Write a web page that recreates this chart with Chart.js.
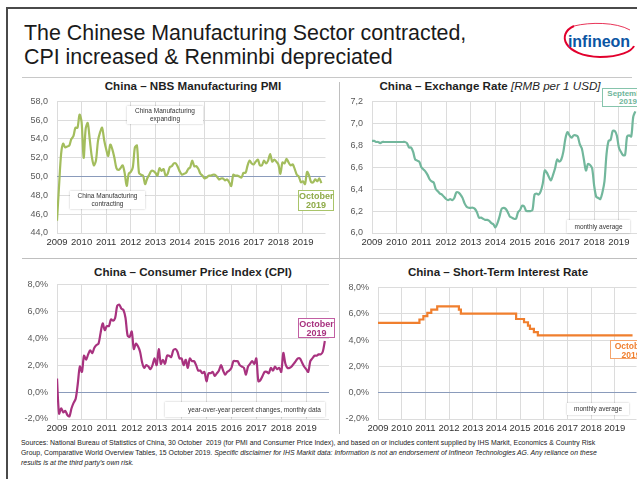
<!DOCTYPE html>
<html>
<head>
<meta charset="utf-8">
<script src="https://cdn.jsdelivr.net/npm/chart.js@4.4.1/dist/chart.umd.min.js"></script>
<style>
  html, body { margin: 0; padding: 0; background: #fff; }
  body { width: 637px; height: 479px; position: relative; overflow: hidden; font-family: "Liberation Sans", Arial, sans-serif; color: #1a1a1a; }
  .frame { position: absolute; left: 6px; top: 7px; width: 700px; height: 500px; border-left: 2px solid #4a4a4a; border-top: 2px solid #4a4a4a; }
  .title { position: absolute; left: 24px; font-size: 21.4px; line-height: 24px; white-space: nowrap; }
  .rule { position: absolute; background: #c8c8c8; }
  .ctitle { position: absolute; font-size: 11.6px; font-weight: bold; white-space: nowrap; transform: translateX(-50%); color: #1f1f1f; }
  .ctitle i { font-weight: normal; }
  canvas { position: absolute; }
  .note { position: absolute; background: #fff; font-size: 6.5px; line-height: 8px; color: #333; text-align: center; box-shadow: 0 0 2px rgba(0,0,0,0.25); white-space: nowrap; }
  .tag { position: absolute; background: #fff; font-size: 9px; line-height: 9px; font-weight: bold; text-align: center; white-space: nowrap; padding-top: 1px; box-sizing: border-box; }
  .foot { position: absolute; left: 21px; top: 438px; font-size: 6.9px; line-height: 10px; color: #222; white-space: nowrap; }
  .logo { position: absolute; left: 560px; top: 20px; }
</style>
</head>
<body>
<div class="frame"></div>
<div class="title" style="top:21px">The Chinese Manufacturing Sector contracted,</div>
<div class="title" style="top:45px">CPI increased &amp; Renminbi depreciated</div>
<svg class="logo" width="77" height="42" viewBox="0 0 77 42">
  <path d="M14 6 C -4 14, 4 36, 40 37 C 60 37, 72 31, 74 26" fill="none" stroke="#e2002d" stroke-width="2"/>
  <path d="M14 6 C 30 2, 56 2, 70 10" fill="none" stroke="#e2002d" stroke-width="0.8"/>
  <text x="39" y="27" text-anchor="middle" font-family="Liberation Sans Narrow, Liberation Sans, Arial" font-weight="bold" font-size="16" fill="#0b55a3">infineon</text>
</svg>
<div class="rule" style="left:22px; top:77px; width:610px; height:1px"></div>
<div class="rule" style="left:339px; top:82px; width:1px; height:352px; background:#bfbfbf"></div>
<div class="rule" style="left:22px; top:258px; width:620px; height:1px; background:#bfbfbf"></div>

<div class="ctitle" style="left:193px; top:79px">China – NBS Manufacturing PMI</div>
<div class="ctitle" style="left:490px; top:79px">China – Exchange Rate <i>[RMB per 1 USD]</i></div>
<div class="ctitle" style="left:193px; top:265px">China – Consumer Price Index (CPI)</div>
<div class="ctitle" style="left:498px; top:265px">China – Short-Term Interest Rate</div>

<canvas id="chart-pmi" width="320" height="167" style="left:20px; top:87px"></canvas>
<canvas id="chart-fx" width="320" height="167" style="left:330px; top:87px"></canvas>
<canvas id="chart-cpi" width="320" height="167" style="left:20px; top:270px"></canvas>
<canvas id="chart-rate" width="320" height="164" style="left:330px; top:273px"></canvas>

<div class="note" style="left:127px; top:106px; width:76px; height:17px; padding-top:1px">China Manufacturing<br>expanding</div>
<div class="note" style="left:70px; top:191px; width:75px; height:17px; padding-top:1px">China Manufacturing<br>contracting</div>
<div class="tag" style="left:298px; top:190px; width:36px; height:21px; border:1.5px solid #a9c46a; color:#8fab48">October<br>2019</div>
<div class="tag" style="left:602px; top:88px; width:52px; height:19px; border:1.5px solid #86c4ac; color:#6fb59a; font-size:8px; line-height:8px">September<br>2019</div>
<div class="note" style="left:567px; top:220px; width:63px; height:13px; line-height:13px">monthly average</div>
<div class="tag" style="left:298px; top:318px; width:37px; height:20px; border:1.5px solid #c25fa3; color:#a8327f">October<br>2019</div>
<div class="note" style="left:165px; top:402px; width:160px; height:15px; line-height:15px; text-align:right; padding-right:4px; box-sizing:border-box">year-over-year percent changes, monthly data</div>
<div class="tag" style="left:610px; top:340px; width:42px; height:19px; border:1.5px solid #f4a46c; color:#f07f2e; font-size:8.5px; line-height:8.5px">October<br>2019</div>
<div class="note" style="left:567px; top:403px; width:62px; height:12px; line-height:12px">monthly average</div>

<div class="foot">Sources: National Bureau of Statistics of China, 30 October&nbsp; 2019 (for PMI and Consumer Price Index), and based on or includes content supplied by IHS Markit, Economics &amp; Country Risk<br>Group, Comparative World Overview Tables, 15 October 2019. <i>Specific disclaimer for IHS Markit data: Information is not an endorsement of Infineon Technologies AG. Any reliance on these<br>results is at the third party's own risk.</i></div>

<script>
// Monthly series, first value = January 2009
const startYear = 2009;
const yearTicks = [2009, 2010, 2011, 2012, 2013, 2014, 2015, 2016, 2017, 2018, 2019];

const pmiValues = [
  45.3, 49.0, 52.4, 53.5, 53.1, 53.2, 53.3, 54.0, 54.3, 55.2, 55.2, 56.6,
  55.8, 52.0, 55.1, 55.7, 53.9, 52.1, 51.2, 51.7, 53.8, 54.7, 55.2, 53.9,
  52.9, 52.2, 53.4, 52.9, 52.0, 50.9, 50.7, 50.9, 51.2, 50.4, 49.0, 50.3,
  50.5, 51.0, 53.1, 53.3, 50.4, 50.2, 50.1, 49.2, 49.8, 50.2, 50.6, 50.6,
  50.4, 50.1, 50.9, 50.6, 50.8, 50.1, 50.3, 51.0, 51.1, 51.4, 51.4, 51.0,
  50.5, 50.2, 50.3, 50.4, 50.8, 51.0, 51.7, 51.1, 51.1, 50.8, 50.3, 50.1,
  49.8, 49.9, 50.1, 50.1, 50.2, 50.2, 50.0, 49.7, 49.8, 49.8, 49.6, 49.7,
  49.4, 49.0, 50.2, 50.1, 50.1, 50.0, 49.9, 50.4, 50.4, 51.2, 51.7, 51.4,
  51.3, 51.6, 51.8, 51.2, 51.2, 51.7, 51.4, 51.7, 52.4, 51.6, 51.8, 51.6,
  51.3, 50.3, 51.5, 51.4, 51.9, 51.5, 51.2, 51.3, 50.8, 50.2, 50.0, 49.4,
  49.5, 49.2, 50.5, 50.1, 49.4, 49.4, 49.7, 49.5, 49.8, 49.3
];

const fxValues = [
  6.84, 6.84, 6.83, 6.83, 6.82, 6.83, 6.83, 6.83, 6.83, 6.83, 6.83, 6.83,
  6.83, 6.83, 6.83, 6.83, 6.83, 6.82, 6.78, 6.78, 6.74, 6.67, 6.66, 6.65,
  6.60, 6.58, 6.56, 6.53, 6.49, 6.47, 6.46, 6.40, 6.38, 6.36, 6.35, 6.33,
  6.31, 6.30, 6.31, 6.30, 6.32, 6.37, 6.37, 6.35, 6.32, 6.27, 6.24, 6.23,
  6.23, 6.23, 6.22, 6.19, 6.14, 6.14, 6.13, 6.12, 6.12, 6.11, 6.09, 6.08,
  6.05, 6.09, 6.15, 6.22, 6.23, 6.22, 6.19, 6.15, 6.14, 6.13, 6.13, 6.19,
  6.21, 6.25, 6.24, 6.20, 6.20, 6.20, 6.21, 6.35, 6.36, 6.35, 6.38, 6.45,
  6.57, 6.55, 6.51, 6.48, 6.53, 6.59, 6.67, 6.65, 6.67, 6.74, 6.86, 6.92,
  6.89, 6.87, 6.89, 6.89, 6.88, 6.81, 6.77, 6.67, 6.57, 6.63, 6.62, 6.59,
  6.43, 6.33, 6.32, 6.31, 6.37, 6.47, 6.72, 6.84, 6.85, 6.93, 6.93, 6.89,
  6.78, 6.74, 6.71, 6.71, 6.88, 6.89, 6.88, 7.06, 7.11
];

const cpiValues = [
  1.0, -1.6, -1.2, -1.5, -1.4, -1.7, -1.8, -1.2, -0.8, -0.5, 0.6, 1.9,
  1.5, 2.7, 2.4, 2.8, 3.1, 2.9, 3.3, 3.5, 3.6, 4.4, 5.1, 4.6,
  4.9, 4.9, 5.4, 5.3, 5.5, 6.4, 6.5, 6.2, 6.1, 5.5, 4.2, 4.1,
  4.5, 3.2, 3.6, 3.4, 3.0, 2.2, 1.8, 2.0, 1.9, 1.7, 2.0, 2.5,
  2.0, 3.2, 2.1, 2.4, 2.1, 2.7, 2.7, 2.6, 3.1, 3.2, 3.0, 2.5,
  2.5, 2.0, 2.4, 1.8, 2.5, 2.3, 2.3, 2.0, 1.6, 1.6, 1.4, 1.5,
  0.8, 1.4, 1.4, 1.5, 1.2, 1.4, 1.6, 2.0, 1.6, 1.3, 1.5, 1.6,
  1.8, 2.3, 2.3, 2.3, 2.0, 1.9, 1.8, 1.3, 1.9, 2.1, 2.3, 2.1,
  2.5, 0.8, 0.9, 1.2, 1.5, 1.5, 1.4, 1.8, 1.6, 1.9, 1.7, 1.8,
  1.5, 2.9, 2.1, 1.8, 1.8, 1.9, 2.1, 2.3, 2.5, 2.5, 2.2, 1.9,
  1.7, 1.5, 2.3, 2.5, 2.7, 2.7, 2.8, 2.8, 3.0, 3.8
];

// Lending rate: month of each change and the new level
const rateMonths = ['2009-01', '2010-10', '2010-12', '2011-02', '2011-04', '2011-07', '2012-06', '2012-07',
                    '2014-11', '2015-03', '2015-05', '2015-06', '2015-08', '2015-10', '2019-10'];
const rateValues = [5.31, 5.56, 5.81, 6.06, 6.31, 6.56, 6.31, 6.00, 5.60, 5.35, 5.10, 4.85, 4.60, 4.35, 4.35];

const xMax = 2019 + 11 / 12;

function monthly(values) {
  return values.map((v, i) => ({ x: startYear + i / 12, y: v }));
}

function fromMonths(months, values) {
  return months.map((m, i) => {
    const [y, mo] = m.split('-').map(Number);
    return { x: y + (mo - 1) / 12, y: values[i] };
  });
}

const comma = (digits, suffix) => v => v.toFixed(digits).replace('.', ',') + (suffix || '');

function buildOptions(o) {
  return {
    responsive: false,
    animation: false,
    layout: { padding: { left: 0, top: o.padTop, right: o.padRight, bottom: 0 } },
    plugins: { legend: { display: false }, tooltip: { enabled: false } },
    scales: {
      x: {
        type: 'linear',
        min: startYear,
        max: xMax,
        afterBuildTicks: s => { s.ticks = yearTicks.map(v => ({ value: v })); },
        afterFit: s => { s.height = o.xHeight; },
        grid: { color: '#dcdcdc', drawTicks: false },
        border: { display: false },
        ticks: { autoSkip: false, maxRotation: 0, padding: 4, color: '#333', font: { family: 'Liberation Sans', size: 9.5 }, callback: v => String(v) }
      },
      y: {
        min: o.yMin,
        max: o.yMax,
        afterFit: s => { s.width = o.yWidth; },
        grid: { drawTicks: false, color: c => (c.tick && c.tick.value === o.zero) ? '#8a9bbb' : '#dcdcdc' },
        border: { display: false },
        ticks: { stepSize: o.step, padding: 9, color: '#595959', font: { family: 'Liberation Sans', size: 9 }, callback: o.format }
      }
    }
  };
}

const activeCharts = {};

function renderChart(canvasId, data, color, opts, extra) {
  const ctx = document.getElementById(canvasId);
  if (!ctx) return;
  activeCharts[canvasId] = new Chart(ctx, {
    type: 'line',
    data: {
      datasets: [Object.assign({
        data: data,
        borderColor: color,
        borderWidth: 2.2,
        pointRadius: 0,
        tension: 0.3,
        fill: false
      }, extra || {})]
    },
    options: buildOptions(opts)
  });
}

renderChart('chart-pmi', monthly(pmiValues), '#a3bd5d', {
  padTop: 3, padRight: 14.5, xHeight: 21, yWidth: 37, yMin: 44, yMax: 58, step: 2, zero: 50, format: comma(1)
});

renderChart('chart-fx', monthly(fxValues), '#72b79c', {
  padTop: 3, padRight: 8.5, xHeight: 21, yWidth: 42, yMin: 6.0, yMax: 7.2, step: 0.2, zero: null, format: comma(1)
});

renderChart('chart-cpi', monthly(cpiValues), '#a8327f', {
  padTop: 3, padRight: 11, xHeight: 18, yWidth: 37, yMin: -2, yMax: 8, step: 2, zero: 0, format: comma(1, '%')
});

renderChart('chart-rate', fromMonths(rateMonths, rateValues), '#f07f2e', {
  padTop: 3, padRight: 13.5, xHeight: 18, yWidth: 48, yMin: -2, yMax: 8, step: 2, zero: 0, format: comma(1, '%')
}, { stepped: 'before', tension: 0 });
</script>
</body>
</html>
